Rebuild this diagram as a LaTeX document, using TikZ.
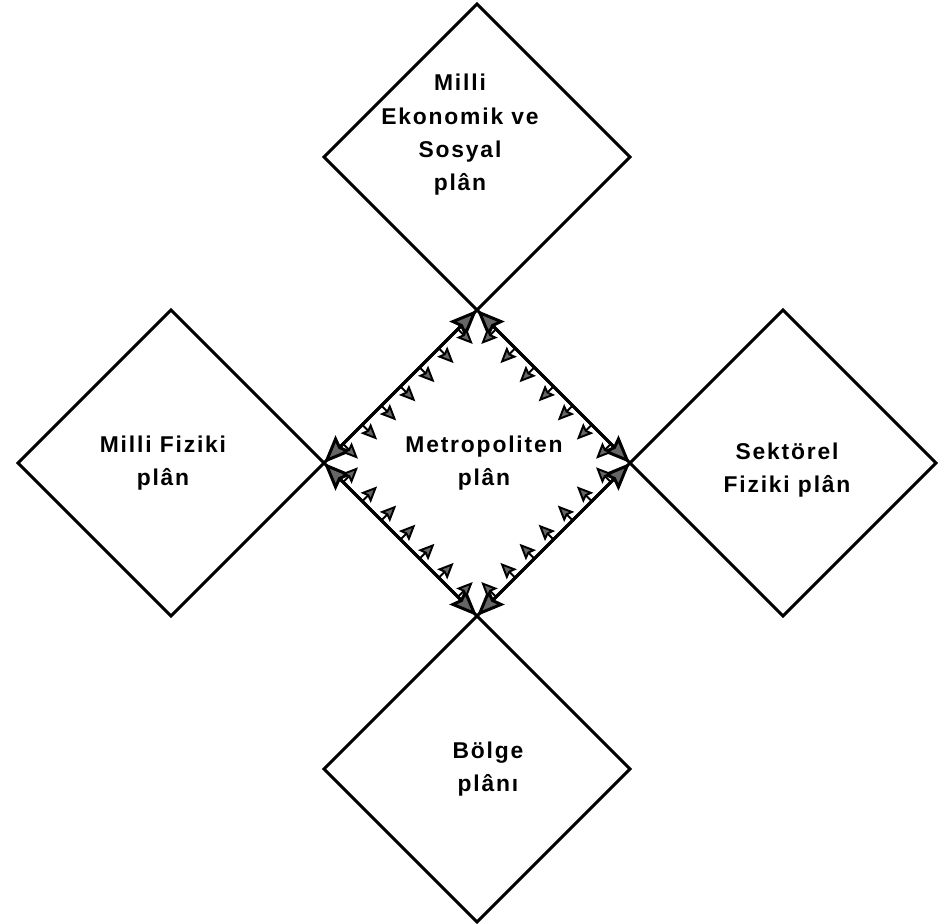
\documentclass[tikz,border=0pt]{standalone}
\usepackage{fontspec}
\usetikzlibrary{arrows.meta,positioning,calc,shapes.geometric}
\newfontfamily\lettering[LetterSpace=8]{Liberation Sans}
\tikzset{
  plan/.style={draw,shape=diamond,aspect=1,minimum width=6.12cm,minimum height=6.12cm,inner sep=0pt,outer sep=0pt,line width=1.7pt},
  lbl/.style={font=\lettering\bfseries\fontsize{13}{19}\selectfont,align=center},
  sidearr/.style={{Stealth[length=5.5mm,width=4.5mm,inset=.8mm,fill=black!60]}-{Stealth[length=5.5mm,width=4.5mm,inset=.8mm,fill=black!60]},line width=1.7pt},
  tickarr/.style={-{Stealth[length=3.2mm,width=2.8mm,inset=.5mm,fill=black!60]},line width=1.1pt}
}
\begin{document}
\begin{tikzpicture}
  \useasboundingbox (-9.54,-9.22) rectangle (9.48,9.26);
  % center and the four plans around it
  \node[plan,label={[lbl,xshift=.14cm]center:{Metropoliten\\plân}}] (met) at (0,0) {};
  \node[plan,above=0pt of met,label={[lbl,xshift=-.34cm,yshift=.44cm]center:{Milli\\Ekonomik ve\\Sosyal\\plân}}] (eko) {};
  \node[plan,left=0pt of met,label={[lbl,xshift=-.16cm]center:{Milli Fiziki\\plân}}] (fiz) {};
  \node[plan,right=0pt of met,label={[lbl,xshift=.08cm,yshift=-.14cm]center:{Sektörel\\Fiziki plân}}] (sek) {};
  \node[plan,below=0pt of met,label={[lbl,xshift=.22cm]center:{Bölge\\plânı}}] (bol) {};
  % sides of the metropolitan plan
  \foreach \a/\b in {north/west,west/south,south/east,east/north} {
    \draw[sidearr] (met.\a) -- (met.\b);
    \foreach \t in {0.125,0.25,...,0.875} {
      \coordinate (p) at ($(met.\a)!\t!(met.\b)$);
      \draw[tickarr] (p) -- ($(p)!0.42cm!90:(met.\b)$);
    }
  }
\end{tikzpicture}
\end{document}
